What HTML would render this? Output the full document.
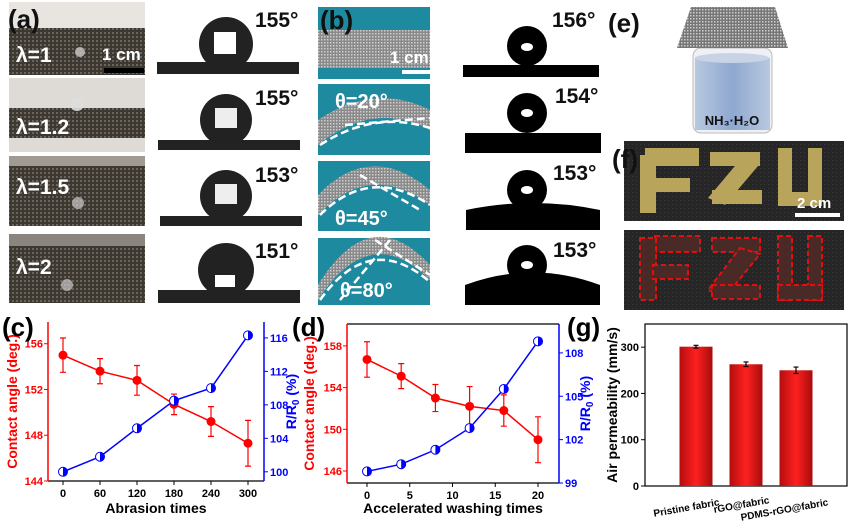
<!DOCTYPE html>
<html><head><meta charset="utf-8"><style>
body{margin:0;background:#fff}
svg{display:block;font-family:"Liberation Sans",Arial,sans-serif}
</style></head><body>
<svg id="fig" width="859" height="525" viewBox="0 0 859 525" xmlns="http://www.w3.org/2000/svg">
<defs>
<pattern id="knit" width="4" height="4" patternUnits="userSpaceOnUse"><rect width="4" height="4" fill="#3d3832"/><rect width="2" height="2" fill="#6b645a"/></pattern>
<pattern id="knitg" width="3" height="3" patternUnits="userSpaceOnUse"><rect width="3" height="3" fill="#8a8a8a"/><rect width="1.5" height="1.5" fill="#cfcfcf"/></pattern>
<pattern id="mesh" width="3" height="3" patternUnits="userSpaceOnUse"><rect width="3" height="3" fill="#777"/><rect width="1.5" height="1.5" fill="#ccc"/></pattern>
<pattern id="black" width="4" height="4" patternUnits="userSpaceOnUse"><rect width="4" height="4" fill="#262626"/><rect width="1" height="1" fill="#3a3a3a"/></pattern>
<linearGradient id="bar" x1="0" x2="1"><stop offset="0" stop-color="#b50d0d"/><stop offset="0.5" stop-color="#ff2020"/><stop offset="1" stop-color="#a80c0c"/></linearGradient>
<linearGradient id="liq" x1="0" x2="1"><stop offset="0" stop-color="#b8c8e0"/><stop offset="0.5" stop-color="#8fa8d0"/><stop offset="1" stop-color="#b8c8e0"/></linearGradient>
</defs>

<!-- (a) photos -->
<g>
<rect x="9" y="2" width="136" height="73" fill="#e8e4e0"/><rect x="9" y="28" width="136" height="47" fill="url(#knit)"/>
<rect x="9" y="78" width="136" height="74" fill="#dedad6"/><rect x="9" y="108" width="136" height="30" fill="url(#knit)"/>
<rect x="9" y="156" width="136" height="70" fill="url(#knit)"/><rect x="9" y="156" width="136" height="10" fill="#a09a92"/>
<rect x="9" y="234" width="136" height="69" fill="url(#knit)"/><rect x="9" y="234" width="136" height="12" fill="#8a857e"/>
<circle cx="80" cy="52" r="5" fill="#ccc" opacity="0.8"/><circle cx="77" cy="104" r="7" fill="#ddd" opacity="0.9"/>
<circle cx="78" cy="203" r="6" fill="#ccc" opacity="0.7"/><circle cx="67" cy="285" r="6" fill="#ccc" opacity="0.7"/>
<rect x="104" y="68" width="40" height="5" fill="#000"/>
<g font-weight="bold" fill="#fff" font-size="21">
<text x="16" y="62">λ=1</text><text x="102" y="60" font-size="17">1 cm</text>
<text x="16" y="134">λ=1.2</text><text x="16" y="194">λ=1.5</text><text x="16" y="274">λ=2</text></g>
<text x="8" y="28" font-size="26" font-weight="bold" fill="#111">(a)</text>
</g>

<!-- (a) contact angle images -->
<g fill="#222">
<rect x="157" y="62" width="142" height="12"/><circle cx="226" cy="44" r="27"/><rect x="214" y="32" width="22" height="22" fill="#fff"/>
<rect x="158" y="140" width="142" height="10"/><circle cx="226" cy="120" r="26"/><rect x="215" y="108" width="22" height="20" fill="#eee"/>
<rect x="160" y="216" width="142" height="10"/><circle cx="226" cy="196" r="26"/><rect x="215" y="184" width="22" height="20" fill="#eee"/>
<rect x="158" y="290" width="142" height="13"/><ellipse cx="226" cy="270" rx="28" ry="27"/><rect x="215" y="275" width="20" height="12" fill="#fff"/>
<g font-size="21" font-weight="bold" fill="#111"><text x="255" y="27">155°</text><text x="255" y="105">155°</text><text x="255" y="182">153°</text><text x="255" y="258">151°</text></g>
</g>

<!-- (b) teal photos -->
<g>
<rect x="318" y="7" width="112" height="72" fill="#1e8aa0"/><rect x="318" y="30" width="112" height="38" fill="url(#knitg)"/><rect x="402" y="70" width="28" height="4" fill="#fff"/>
<rect x="318" y="84" width="112" height="71" fill="#1e8aa0"/><path d="M318 145 Q374 100 430 130 L430 110 Q374 82 318 120Z" fill="url(#knitg)"/>
<rect x="318" y="161" width="112" height="70" fill="#1e8aa0"/><path d="M318 215 Q370 160 430 205 L430 190 Q370 140 318 195Z" fill="url(#knitg)"/>
<rect x="318" y="238" width="112" height="67" fill="#1e8aa0"/><path d="M318 300 Q370 220 430 280 L430 265 Q370 200 318 285Z" fill="url(#knitg)"/>
<g stroke="#fff" stroke-width="2.5" stroke-dasharray="8,4" fill="none"><path d="M320 145 Q374 110 430 128"/><path d="M320 215 Q370 165 430 205"/><path d="M320 300 Q370 230 430 282"/><path d="M345 125 L430 118"/><path d="M360 175 L420 210"/><path d="M375 240 L430 275"/><path d="M390 240 L340 300"/></g>
<g font-weight="bold" fill="#fff" font-size="20"><text x="390" y="63" font-size="17">1 cm</text><text x="335" y="108">θ=20°</text><text x="335" y="225">θ=45°</text><text x="340" y="297">θ=80°</text></g>
<text x="320" y="29" font-size="26" font-weight="bold" fill="#111">(b)</text>
</g>

<!-- (b) contact angle -->
<g fill="#000">
<rect x="463" y="65" width="136" height="12"/><circle cx="527" cy="46" r="20"/><ellipse cx="527" cy="47" rx="6" ry="4" fill="#fff"/>
<rect x="465" y="133" width="136" height="20"/><circle cx="527" cy="113" r="20"/><ellipse cx="527" cy="113" rx="6" ry="4" fill="#fff"/>
<path d="M466 230 L466 210 Q533 196 600 210 L600 230Z"/><circle cx="527" cy="190" r="20"/><ellipse cx="527" cy="190" rx="6" ry="4" fill="#fff"/>
<path d="M465 305 L465 285 Q533 260 600 285 L600 305Z"/><circle cx="527" cy="265" r="20"/><ellipse cx="527" cy="265" rx="6" ry="4" fill="#fff"/>
<g font-size="21" font-weight="bold" fill="#111"><text x="552" y="27">156°</text><text x="555" y="103">154°</text><text x="553" y="180">153°</text><text x="553" y="257">153°</text></g>
</g>

<!-- (e) -->
<g>
<text x="608" y="32" font-size="26" font-weight="bold" fill="#111">(e)</text>
<rect x="693" y="48" width="79" height="85" rx="8" fill="#eef0f4" stroke="#bbb"/>
<rect x="695" y="58" width="75" height="72" fill="url(#liq)"/>
<ellipse cx="732" cy="58" rx="37" ry="5" fill="#c8d4e6"/>
<path d="M691 7 L775 7 L788 48 L677 48Z" fill="url(#mesh)"/>
<text x="732" y="125" font-size="13" font-weight="bold" text-anchor="middle" fill="#111">NH₃·H₂O</text>
</g>

<!-- (f) -->
<g>
<rect x="624" y="141" width="220" height="80" fill="url(#black)"/>
<g fill="#b8a45a"><rect x="645" y="148" width="54" height="18"/><rect x="640" y="155" width="16" height="58"/><rect x="645" y="178" width="45" height="14"/>
<rect x="710" y="152" width="50" height="14"/><polygon points="740,160 758,166 725,205 708,198"/><rect x="712" y="190" width="50" height="14"/>
<rect x="778" y="148" width="14" height="58"/><rect x="808" y="148" width="14" height="58"/><rect x="778" y="192" width="44" height="14"/></g>
<rect x="795" y="213" width="45" height="4" fill="#fff"/><text x="797" y="208" font-size="15" font-weight="bold" fill="#fff">2 cm</text>
<text x="612" y="168" font-size="26" font-weight="bold" fill="#111">(f)</text>
<rect x="624" y="230" width="220" height="80" fill="url(#black)"/>
<g fill="#4a2a26" stroke="#e01010" stroke-width="2" stroke-dasharray="5,3"><rect x="655" y="236" width="45" height="16"/><rect x="640" y="238" width="16" height="62"/><rect x="653" y="265" width="35" height="14"/>
<rect x="712" y="238" width="48" height="14"/><polygon points="740,248 760,254 726,296 708,290"/><rect x="712" y="285" width="48" height="14"/>
<rect x="778" y="236" width="14" height="64"/><rect x="808" y="236" width="14" height="64"/><rect x="778" y="285" width="44" height="15"/></g>
</g>

<g id="charts"></g>
</svg>
<script>
// (c) data
const cX=[0,60,120,180,240,300];
const cCA=[155,153.6,152.8,150.7,149.2,147.3];
const cErr=[1.5,1.1,1.3,0.9,1.3,2.0];
const cR=[100,101.8,105.2,108.5,110,116.3];
const cXT=[0,60,120,180,240,300];
const cYL=[144,148,152,156];
const cYR=[100,104,108,112,116];
// (d) data
const dX=[0,4,8,12,16,20];
const dCA=[156.7,155.1,153,152.2,151.8,149];
const dErr=[1.7,1.2,1.3,1.9,1.5,2.2];
const dR=[99.8,100.3,101.3,102.8,105.5,108.8];
const dXT=[0,5,10,15,20];
const dYL=[146,150,154,158];
const dYR=[99,102,105,108];
// (g) data
const gCat=["Pristine fabric","rGO@fabric","PDMS-rGO@fabric"];
const gVal=[301,263,250];
const gErr=[3,5,7];
const gYT=[0,100,200,300];

const NS="http://www.w3.org/2000/svg";
const root=document.getElementById('charts');
function mk(tag,attrs,parent,txt){const e=document.createElementNS(NS,tag);for(const k in attrs)e.setAttribute(k,attrs[k]);if(txt!==undefined)e.textContent=txt;(parent||root).appendChild(e);return e;}

function dual(o){
  const g=mk('g',{});
  
  
  const x=v=>o.x0+(v-o.xmin)/(o.xmax-o.xmin)*(o.x1-o.x0);
  const yl=v=>o.B-(v-o.lmin)/(o.lmax-o.lmin)*(o.B-o.T);
  const yr=v=>o.B-(v-o.rmin)/(o.rmax-o.rmin)*(o.B-o.T);
  mk('line',{x1:o.L,y1:o.B,x2:o.R,y2:o.B,stroke:'#000','stroke-width':1.2},g);
  if(o.top) mk('line',{x1:o.L,y1:o.T,x2:o.R,y2:o.T,stroke:'#000','stroke-width':1.2},g);
  mk('line',{x1:o.L,y1:o.T,x2:o.L,y2:o.B,stroke:'#f00','stroke-width':1.5},g);
  mk('line',{x1:o.R,y1:o.T,x2:o.R,y2:o.B,stroke:'#00f','stroke-width':1.5},g);
  o.xt.forEach(v=>{mk('line',{x1:x(v),y1:o.B,x2:x(v),y2:o.B+4,stroke:'#000'},g);
    const t=mk('text',{x:x(v),y:o.B+16,'font-size':11,'font-weight':'bold','text-anchor':'middle'},g,v);
    });
  o.yl.forEach(v=>{mk('line',{x1:o.L,y1:yl(v),x2:o.L-4,y2:yl(v),stroke:'#f00'},g);
    const t=mk('text',{x:o.L-5,y:yl(v)+4,'font-size':11,'font-weight':'bold','text-anchor':'end',fill:'#f00'},g,v);
    });
  o.yr.forEach(v=>{mk('line',{x1:o.R,y1:yr(v),x2:o.R+4,y2:yr(v),stroke:'#00f'},g);
    const t=mk('text',{x:o.R+6,y:yr(v)+4,'font-size':11,'font-weight':'bold',fill:'#00f'},g,v);
    });
  mk('polyline',{points:o.xs.map((v,i)=>x(v)+','+yl(o.ca[i])).join(' '),fill:'none',stroke:'#f00','stroke-width':1.5},g);
  mk('polyline',{points:o.xs.map((v,i)=>x(v)+','+yr(o.r[i])).join(' '),fill:'none',stroke:'#00f','stroke-width':1.5},g);
  o.xs.forEach((v,i)=>{
    const cx=x(v),t=yl(o.ca[i]+o.err[i]),b=yl(o.ca[i]-o.err[i]);
    mk('path',{d:`M${cx} ${t}V${b}M${cx-3} ${t}H${cx+3}M${cx-3} ${b}H${cx+3}`,stroke:'#f00','stroke-width':1.2,fill:'none'},g);
    const p=mk('circle',{cx:cx,cy:yl(o.ca[i]),r:4.5,fill:'#f00'},g);
    
    const q=mk('circle',{cx:cx,cy:yr(o.r[i]),r:4.5,fill:'#fff',stroke:'#00f','stroke-width':1},g);
    
    const cy=yr(o.r[i]);
    mk('path',{d:`M${cx} ${cy-4.5}A4.5 4.5 0 0 1 ${cx} ${cy+4.5}Z`,fill:'#00f'},g);
  });
  const xt=mk('text',{x:(o.L+o.R)/2,y:513,'font-size':14,'font-weight':'bold','text-anchor':'middle'},g,o.xtitle);
  
  const lt=mk('text',{x:o.ltx,y:(o.T+o.B)/2,'font-size':14,'font-weight':'bold','text-anchor':'middle',fill:'#f00',transform:`rotate(-90 ${o.ltx} ${(o.T+o.B)/2})`},g,'Contact angle (deg.)');
  
  const rt=mk('text',{x:o.rtx,y:(o.T+o.B)/2,'font-size':14,'font-weight':'bold','text-anchor':'middle',fill:'#00f',transform:`rotate(-90 ${o.rtx} ${(o.T+o.B)/2})`},g);
  rt.innerHTML='R/R<tspan font-size="10" dy="3">0</tspan><tspan dy="-3"> (%)</tspan>';
  
  const pl=mk('text',{x:o.lab,y:336,'font-size':26,'font-weight':'bold'},g,o.label);
  
}
dual({name:'chart-c-abrasion',L:48,R:264,T:322,B:481,x0:63,x1:248,xmin:0,xmax:300,lmin:144,lmax:157.9,rmin:98.9,rmax:117.9,top:false,
  xs:cX,ca:cCA,err:cErr,r:cR,xt:cXT,yl:cYL,yr:cYR,xtitle:'Abrasion times',ltx:17,rtx:296,label:'(c)',lab:2});
dual({name:'chart-d-washing',L:347,R:559,T:324,B:483,x0:367,x1:538,xmin:0,xmax:20,lmin:144.85,lmax:160.1,rmin:99,rmax:110,top:true,
  xs:dX,ca:dCA,err:dErr,r:dR,xt:dXT,yl:dYL,yr:dYR,xtitle:'Accelerated washing times',ltx:314,rtx:590,label:'(d)',lab:292});

// (g)
(function(){
  const g=mk('g',{});
  
  
  const L=645,R=847,T=324,B=486,y=v=>B-v/350*(B-T);
  const cx=i=>696+i*50;
  const labX=[687,742,785], labY=[511,508,513];
  mk('rect',{x:L,y:T,width:R-L,height:B-T,fill:'none',stroke:'#000','stroke-width':1.2},g);
  gYT.forEach(v=>{mk('line',{x1:L,y1:y(v),x2:L-4,y2:y(v),stroke:'#000'},g);
    const t=mk('text',{x:L-6,y:y(v)+4,'font-size':11,'font-weight':'bold','text-anchor':'end'},g,v);
    });
  gVal.forEach((v,i)=>{
    const b=mk('rect',{x:cx(i)-16.5,y:y(v),width:33,height:B-y(v),fill:'url(#bar)'},g);
    
    const t=y(v+gErr[i]),bb=y(v-gErr[i]);
    mk('path',{d:`M${cx(i)} ${t}V${bb}M${cx(i)-2.5} ${t}H${cx(i)+2.5}M${cx(i)-2.5} ${bb}H${cx(i)+2.5}`,stroke:'#000','stroke-width':1.2},g);
    const lx=labX[i],ly=labY[i];
    const lb=mk('text',{x:lx,y:ly,'font-size':10,'font-weight':'bold','text-anchor':'middle',transform:`rotate(-10 ${lx} ${ly})`},g,gCat[i]);
    
  });
  const yt=mk('text',{x:617,y:405,'font-size':14,'font-weight':'bold','text-anchor':'middle',transform:'rotate(-90 617 405)'},g,'Air permeability (mm/s)');
  
  const pl=mk('text',{x:567,y:336,'font-size':26,'font-weight':'bold'},g,'(g)');
  
})();
</script>
</body></html>
